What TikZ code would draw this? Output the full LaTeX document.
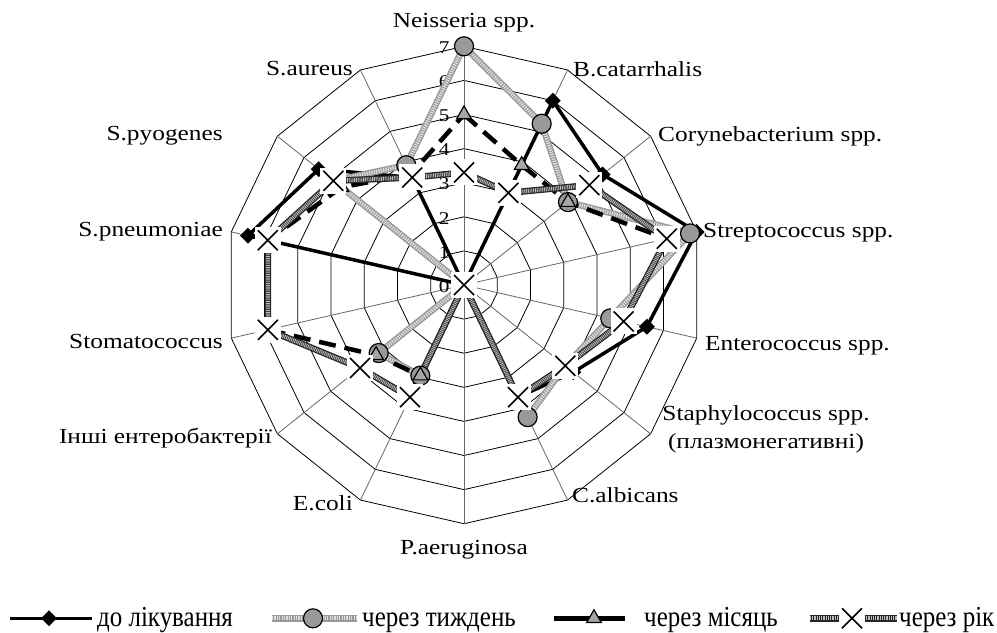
\documentclass[tikz,border=0pt]{standalone}
\usepackage{fontspec}
\setmainfont{Liberation Serif}[FakeStretch=1.18]
\newfontfamily\legfont{Liberation Serif}[FakeStretch=0.86]
\usetikzlibrary{shapes.geometric}

\tikzset{
  web/.style={line width=0.8pt},
  spoke/.style={line width=0.8pt, black!60},
  num/.style={font=\fontsize{18}{20}\selectfont, inner sep=0pt, anchor=east},
  lbl/.style={font=\fontsize{21.5}{28}\selectfont, inner sep=0pt},
  leg/.style={font=\legfont\fontsize{29}{32}\selectfont, inner sep=0pt, anchor=base west},
  serA/.style={line width=3.5pt, line join=round},
  serB/.style={line width=6.5pt, black!40, line join=round,
    postaction={draw, line width=3.8pt, black!12, dash pattern=on 1.2pt off 1.2pt}},
  serC/.style={line width=4.5pt, line join=round, dash pattern=on 17pt off 9pt},
  serD/.style={line width=6.5pt, black!85, line join=round,
    postaction={draw, line width=4pt, black!25, dash pattern=on 0.9pt off 0.9pt}},
  mkA/.style={diamond, fill=black, minimum size=16pt, inner sep=0pt},
  mkB/.style={circle, draw, line width=1.2pt, fill=black!40, minimum size=19pt, inner sep=0pt},
  mkC/.style={regular polygon, regular polygon sides=3, draw, line width=1.2pt,
    fill=black!35, minimum size=17pt, inner sep=0pt},
  mkD/.style={rectangle, fill=white, minimum size=26pt, inner sep=0pt,
    path picture={\draw[line width=1.6pt]
      ([shift={(-10pt,-10pt)}]path picture bounding box.center) -- ([shift={(10pt,10pt)}]path picture bounding box.center)
      ([shift={(-10pt,10pt)}]path picture bounding box.center) -- ([shift={(10pt,-10pt)}]path picture bounding box.center);}},
}

\begin{document}
\begin{tikzpicture}[x=34.1pt, y=34.1pt]
  \useasboundingbox (-13.607,-10.176) rectangle (15.630,8.358);
  % web
  \foreach \r in {1,...,7}
    \draw[web] (90:\r) \foreach \k in {1,...,13}{ -- ({90-\k*360/14}:\r)} -- cycle;
  \foreach \k in {0,...,13}
    \draw[spoke] (0,0) -- ({90-\k*360/14}:7);
  \foreach \r in {0,...,7}
    \node[num] (n\r) at (-0.42,\r-0.04) {\r};

  % data: A до лікування, B через тиждень, C через місяць, D через рік
  \foreach \s/\vals in {
      A/{0,6.0,5.2,7.0,5.5,4.1,3.65,0,0,0,0,6.5,5.45,3.5},
      B/{7.0,5.25,3.9,6.8,4.4,3.8,4.3,0,2.95,3.2,0,0,4.9,3.9},
      C/{5.0,3.9,3.9,6.1,4.8,3.8,3.65,0,2.95,3.3,5.9,5.9,4.6,3.6},
      D/{3.3,3.0,4.7,6.1,4.8,3.8,3.65,0,3.65,3.9,5.9,5.9,4.9,3.5}}
    \foreach \v [count=\k from 0] in \vals
      \coordinate (\s-\k) at ({90-\k*360/14}:\v);

  \draw[serA] (A-0) \foreach \k in {1,...,13}{ -- (A-\k)} -- cycle;
  \draw[serB] (B-0) \foreach \k in {1,...,13}{ -- (B-\k)} -- cycle;
  \draw[serC] (C-0) \foreach \k in {1,...,13}{ -- (C-\k)} -- cycle;
  \draw[serD] (D-0) \foreach \k in {1,...,13}{ -- (D-\k)} -- cycle;
  \foreach \k in {0,...,13} \node[mkA] (mA\k) at (A-\k) {};
  \foreach \k in {0,...,13} \node[mkB] (mB\k) at (B-\k) {};
  \foreach \k in {0,...,13} \node[mkC] (mC\k) at (C-\k) {};
  \foreach \k in {0,...,13} \node[mkD] (mD\k) at (D-\k) {};

  % axis names
  \node[lbl, anchor=base] (lNeis) at (0,7.537) {Neisseria spp.};
  \node[lbl, anchor=base west] (lBcat) at (3.196,6.129) {B.catarrhalis};
  \node[lbl, anchor=base west] (lCory) at (5.689,4.194) {Corynebacterium spp.};
  \node[lbl, anchor=base west] (lStrep) at (7.009,1.408) {Streptococcus spp.};
  \node[lbl, anchor=base west] (lEnt) at (7.067,-1.906) {Enterococcus spp.};
  \node[lbl, anchor=north, align=center] (lStaph) at (8.856,-3.53) {Staphylococcus spp.\\(плазмонегативні)};
  \node[lbl, anchor=base west] (lCalb) at (3.167,-6.364) {C.albicans};
  \node[lbl, anchor=base] (lPaer) at (0,-7.888) {P.aeruginosa};
  \node[lbl, anchor=base east] (lEcoli) at (-3.255,-6.598) {E.coli};
  \node[lbl, anchor=base east] (lInshi) at (-5.630,-4.633) {Інші ентеробактерії};
  \node[lbl, anchor=base east] (lStom) at (-7.067,-1.848) {Stomatococcus};
  \node[lbl, anchor=base east] (lSpn) at (-7.067,1.437) {S.pneumoniae};
  \node[lbl, anchor=base east] (lSpy) at (-7.067,4.252) {S.pyogenes};
  \node[lbl, anchor=base east] (lSaur) at (-3.255,6.158) {S.aureus};

  % legend
  \coordinate (gA1) at (-13.314,-9.774); \coordinate (gA2) at (-10.909,-9.774);
  \coordinate (gB1) at (-5.630,-9.774);  \coordinate (gB2) at (-3.138,-9.774);
  \coordinate (gC1) at (2.639,-9.774);   \coordinate (gC2) at (4.721,-9.774);
  \coordinate (gD1) at (10.147,-9.774);  \coordinate (gD2) at (12.698,-9.774);
  \draw[serA] (gA1) -- (gA2);
  \draw[serB] (gB1) -- (gB2);
  \draw[serC, solid] (gC1) -- (gC2);
  \draw[serD] (gD1) -- (gD2);
  \node[mkA] (kA) at (-12.170,-9.774) {};
  \node[mkB] (kB) at (-4.428,-9.774) {};
  \node[mkC] (kC) at (3.812,-9.774) {};
  \node[mkD] (kD) at (11.378,-9.774) {};
  \node[leg] (tA) at (-10.762,-10.02) {до лікування};
  \node[leg] (tB) at (-2.991,-10.02) {через тиждень};
  \node[leg] (tC) at (5.279,-10.02) {через місяць};
  \node[leg] (tD) at (12.757,-10.02) {через рік};
\end{tikzpicture}
\end{document}
